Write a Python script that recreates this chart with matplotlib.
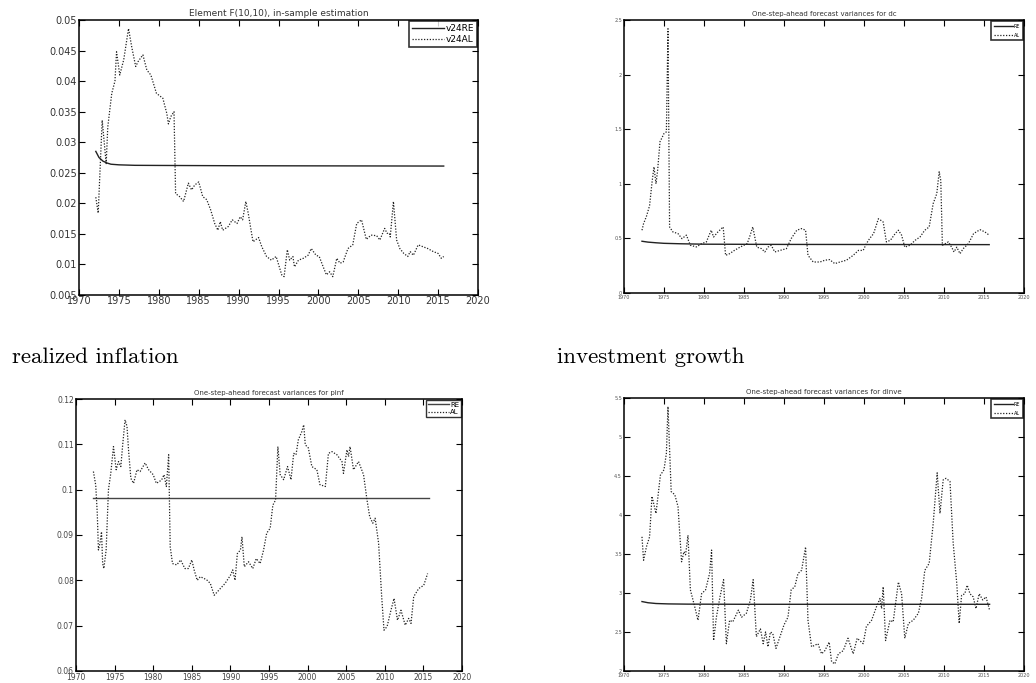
import matplotlib.pyplot as plt
import numpy as np

# --- data ---
# Element F(10,10), in-sample estimation
f_years = [1972.1, 1972.4, 1972.9, 1973.4, 1973.6, 1974.1, 1974.5, 1974.7, 1975.1, 1975.6,
           1976.2, 1976.6, 1977.1, 1977.4, 1978.0, 1978.5, 1979.0, 1979.7, 1980.5, 1981.0,
           1981.2, 1981.5, 1981.9, 1982.1, 1982.6, 1983.1, 1983.7, 1984.1, 1984.5, 1985.0,
           1985.5, 1986.0, 1986.5, 1987.0, 1987.4, 1987.7, 1988.0, 1988.7, 1989.2, 1989.8,
           1990.2, 1990.5, 1990.9, 1991.2, 1991.8, 1992.5, 1992.9, 1993.5, 1994.1, 1994.7,
           1995.4, 1995.7, 1996.1, 1996.4, 1996.8, 1997.0, 1997.5, 1998.1, 1998.7, 1999.1,
           1999.7, 2000.1, 2000.6, 2001.0, 2001.4, 2001.8, 2002.3, 2002.7, 2003.1, 2003.7,
           2004.3, 2004.8, 2005.4, 2006.0, 2006.6, 2007.3, 2007.7, 2008.3, 2008.6, 2008.9,
           2009.0, 2009.4, 2009.8, 2010.2, 2010.7, 2011.2, 2011.5, 2011.9, 2012.5, 2013.1,
           2013.7, 2014.4, 2015.0, 2015.4, 2015.7]
f_al = [0.0210, 0.0184, 0.0336, 0.0265, 0.0325, 0.0380, 0.0400, 0.0448, 0.0410, 0.0435,
        0.0486, 0.0456, 0.0424, 0.0432, 0.0443, 0.0418, 0.0410, 0.0380, 0.0372, 0.0347,
        0.0330, 0.0342, 0.0350, 0.0216, 0.0211, 0.0203, 0.0233, 0.0222, 0.0230, 0.0235,
        0.0211, 0.0206, 0.0189, 0.0167, 0.0156, 0.0170, 0.0156, 0.0162, 0.0173, 0.0167,
        0.0178, 0.0173, 0.0203, 0.0184, 0.0137, 0.0144, 0.0129, 0.0113, 0.0107, 0.0113,
        0.0083, 0.0080, 0.0124, 0.0107, 0.0113, 0.0096, 0.0107, 0.0110, 0.0115, 0.0126,
        0.0115, 0.0113, 0.0096, 0.0083, 0.0088, 0.0080, 0.0110, 0.0102, 0.0104, 0.0126,
        0.0132, 0.0167, 0.0173, 0.0141, 0.0148, 0.0147, 0.0140, 0.0159, 0.0151, 0.0151,
        0.0145, 0.0203, 0.0140, 0.0126, 0.0118, 0.0113, 0.0121, 0.0115, 0.0132, 0.0129,
        0.0126, 0.0121, 0.0118, 0.0110, 0.0113]
f_re_years = [1972.1, 1972.5, 1973.0, 1973.5, 1974.0, 1975.0, 1977.0, 1980.0, 1990.0, 2015.7]
f_re = [0.0285, 0.0275, 0.0269, 0.0266, 0.0264, 0.0263, 0.02622, 0.0262, 0.02615, 0.0261]

# One-step-ahead forecast variances for dc
dc_years = [1972.25, 1972.45, 1972.8, 1973.2, 1973.5, 1973.75, 1974.0, 1974.2, 1974.5, 1975.0,
            1975.3, 1975.5, 1975.7, 1976.1, 1976.75, 1977.25, 1977.8, 1978.3, 1979.05, 1979.7,
            1980.3, 1980.9, 1981.2, 1981.75, 1982.4, 1982.7, 1983.2, 1983.8, 1984.5, 1985.4,
            1985.7, 1986.1, 1986.6, 1987.2, 1987.6, 1988.0, 1988.4, 1988.85, 1989.5, 1990.3,
            1990.9, 1991.6, 1992.2, 1992.7, 1993.0, 1993.65, 1994.5, 1995.1, 1995.7, 1996.35,
            1997.0, 1997.8, 1998.65, 1999.3, 1999.9, 2000.3, 2000.7, 2001.2, 2001.8, 2002.1,
            2002.4, 2002.8, 2003.3, 2003.9, 2004.3, 2004.7, 2005.1, 2005.75, 2006.4, 2007.0,
            2007.6, 2008.15, 2008.65, 2009.1, 2009.4, 2009.6, 2009.8, 2010.55, 2010.95, 2011.25,
            2011.6, 2012.0, 2012.4, 2013.05, 2013.7, 2014.5, 2015.1, 2015.65]
dc_al = [0.575, 0.636, 0.700, 0.800, 1.010, 1.155, 1.000, 1.120, 1.385, 1.460,
         1.476, 2.420, 0.605, 0.560, 0.544, 0.498, 0.530, 0.437, 0.422, 0.452,
         0.468, 0.575, 0.513, 0.560, 0.605, 0.345, 0.360, 0.390, 0.420, 0.452,
         0.513, 0.605, 0.420, 0.406, 0.376, 0.420, 0.437, 0.376, 0.390, 0.406,
         0.498, 0.575, 0.590, 0.575, 0.345, 0.284, 0.284, 0.300, 0.306, 0.269,
         0.284, 0.300, 0.345, 0.390, 0.390, 0.452, 0.498, 0.544, 0.680, 0.666,
         0.650, 0.468, 0.483, 0.544, 0.575, 0.530, 0.420, 0.437, 0.483, 0.513,
         0.575, 0.605, 0.819, 0.910, 1.110, 1.030, 0.437, 0.468, 0.420, 0.376,
         0.420, 0.360, 0.406, 0.452, 0.544, 0.580, 0.560, 0.530]
dc_re_years = [1972.25, 1973.0, 1974.0, 1975.0, 1977.0, 1980.0, 1990.0, 2015.65]
dc_re = [0.474, 0.466, 0.460, 0.455, 0.451, 0.447, 0.445, 0.443]

# One-step-ahead forecast variances for pinf
pi_years = [1972.25, 1972.55, 1972.75, 1972.9, 1973.1, 1973.3, 1973.45, 1973.6, 1973.9, 1974.2,
            1974.5, 1974.85, 1975.2, 1975.5, 1975.8, 1976.05, 1976.35, 1976.6, 1976.8, 1977.1,
            1977.45, 1977.9, 1978.3, 1978.95, 1979.4, 1980.0, 1980.4, 1980.8, 1981.1, 1981.4,
            1981.7, 1982.0, 1982.2, 1982.5, 1983.05, 1983.55, 1984.1, 1984.55, 1985.0, 1985.3,
            1985.7, 1986.1, 1986.6, 1987.0, 1987.4, 1987.9, 1988.7, 1989.3, 1990.0, 1990.3,
            1990.6, 1990.9, 1991.3, 1991.5, 1991.8, 1992.35, 1992.9, 1993.35, 1993.85, 1994.3,
            1994.7, 1995.15, 1995.5, 1995.85, 1996.15, 1996.45, 1996.9, 1997.4, 1997.85, 1998.2,
            1998.5, 1998.8, 1999.25, 1999.5, 1999.7, 2000.1, 2000.55, 2001.2, 2001.6, 2002.3,
            2002.7, 2003.15, 2003.8, 2004.45, 2004.65, 2005.1, 2005.3, 2005.5, 2005.95, 2006.6,
            2007.25, 2007.7, 2008.05, 2008.45, 2008.75, 2009.2, 2009.6, 2009.9, 2010.3, 2010.8,
            2011.2, 2011.65, 2012.1, 2012.65, 2013.1, 2013.4, 2013.75, 2014.4, 2015.05, 2015.55]
pi_al = [0.1040, 0.1010, 0.0948, 0.0867, 0.0882, 0.0907, 0.0837, 0.0826, 0.0867, 0.1000,
         0.1036, 0.1095, 0.1044, 0.1062, 0.1051, 0.1100, 0.1154, 0.1140, 0.1088, 0.1025,
         0.1014, 0.1044, 0.1040, 0.1059, 0.1044, 0.1033, 0.1014, 0.1018, 0.1022, 0.1033,
         0.1007, 0.1077, 0.0874, 0.0837, 0.0834, 0.0845, 0.0826, 0.0826, 0.0845, 0.0823,
         0.0800, 0.0808, 0.0804, 0.0800, 0.0793, 0.0767, 0.0782, 0.0793, 0.0811, 0.0823,
         0.0800, 0.0859, 0.0867, 0.0896, 0.0830, 0.0841, 0.0826, 0.0848, 0.0837, 0.0867,
         0.0904, 0.0915, 0.0966, 0.0977, 0.1095, 0.1033, 0.1022, 0.1051, 0.1022, 0.1080,
         0.1077, 0.1110, 0.1128, 0.1143, 0.1099, 0.1092, 0.1051, 0.1044, 0.1011, 0.1007,
         0.1080, 0.1084, 0.1077, 0.1062, 0.1036, 0.1088, 0.1073, 0.1095, 0.1044, 0.1062,
         0.1033, 0.0977, 0.0940, 0.0926, 0.0937, 0.0882, 0.0764, 0.0690, 0.0698, 0.0734,
         0.0760, 0.0712, 0.0734, 0.0701, 0.0716, 0.0705, 0.0764, 0.0782, 0.0789, 0.0815]
pi_re_years = [1972.25, 2015.75]
pi_re = [0.0981, 0.0981]

# One-step-ahead forecast variances for dinve
inv_years = [1972.25, 1972.45, 1972.8, 1973.2, 1973.5, 1974.0, 1974.25, 1974.55, 1975.0, 1975.3,
             1975.5, 1975.9, 1976.35, 1976.75, 1977.2, 1977.5, 1977.7, 1978.0, 1978.3, 1978.85,
             1979.25, 1979.7, 1980.2, 1980.7, 1980.95, 1981.2, 1981.55, 1982.0, 1982.45, 1982.8,
             1983.2, 1983.6, 1984.3, 1984.7, 1985.3, 1985.8, 1986.15, 1986.55, 1987.05, 1987.4,
             1987.7, 1988.0, 1988.3, 1988.6, 1989.0, 1989.5, 1990.0, 1990.5, 1990.9, 1991.35,
             1991.75, 1992.2, 1992.7, 1993.0, 1993.45, 1993.85, 1994.25, 1994.7, 1995.1, 1995.65,
             1995.95, 1996.35, 1996.8, 1997.4, 1998.0, 1998.65, 1999.15, 1999.9, 2000.3, 2000.95,
             2001.55, 2002.0, 2002.2, 2002.4, 2002.7, 2003.25, 2003.65, 2004.3, 2004.7, 2005.1,
             2005.55, 2006.15, 2006.8, 2007.2, 2007.6, 2008.15, 2008.65, 2009.15, 2009.5, 2009.9,
             2010.25, 2010.75, 2011.15, 2011.6, 2011.9, 2012.2, 2012.6, 2012.9, 2013.25, 2013.65,
             2014.0, 2014.4, 2014.85, 2015.25, 2015.7]
inv_al = [3.72, 3.42, 3.59, 3.72, 4.24, 4.02, 4.24, 4.51, 4.58, 4.79,
          5.39, 4.30, 4.26, 4.11, 3.40, 3.53, 3.49, 3.74, 3.04, 2.82,
          2.65, 2.99, 3.04, 3.25, 3.55, 2.39, 2.69, 2.95, 3.17, 2.35,
          2.65, 2.63, 2.78, 2.69, 2.74, 2.91, 3.17, 2.44, 2.54, 2.35,
          2.50, 2.31, 2.50, 2.48, 2.29, 2.44, 2.59, 2.69, 3.04, 3.08,
          3.25, 3.29, 3.59, 2.65, 2.31, 2.33, 2.35, 2.22, 2.26, 2.37,
          2.12, 2.09, 2.22, 2.26, 2.42, 2.22, 2.42, 2.35, 2.57, 2.65,
          2.82, 2.93, 2.80, 3.08, 2.39, 2.65, 2.63, 3.14, 2.99, 2.42,
          2.61, 2.65, 2.74, 2.93, 3.29, 3.38, 3.89, 4.54, 4.02, 4.45,
          4.47, 4.43, 3.64, 3.12, 2.61, 2.97, 2.99, 3.10, 2.99, 2.95,
          2.80, 2.99, 2.91, 2.95, 2.78]
inv_re_years = [1972.25, 1973.0, 1974.0, 1975.5, 1978.0, 1985.0, 2015.7]
inv_re = [2.89, 2.875, 2.865, 2.86, 2.857, 2.855, 2.855]

year_ticks = list(range(1970, 2021, 5))
dots = (0, (1, 1.3))


def matlab_axes(ax, fontsize, tickcolor='black'):
    ax.set_xlim(1970, 2020)
    ax.set_xticks(year_ticks)
    ax.tick_params(direction='in', top=True, right=True, length=4, width=0.8,
                   labelsize=fontsize, labelcolor=tickcolor, pad=1.5)
    for sp in ax.spines.values():
        sp.set_linewidth(1.1)


fig = plt.figure(figsize=(10.36, 6.83), dpi=100)
fig.patch.set_facecolor('white')

# top left
ax1 = fig.add_axes([0.0763, 0.5681, 0.3851, 0.4026])
ax1.plot(f_re_years, f_re, '-', color='#222222', lw=1.0, label='v24RE')
ax1.plot(f_years, f_al, linestyle=dots, color='#222222', lw=0.9, label='v24AL')
matlab_axes(ax1, 7, '#333333')
ax1.tick_params(axis='x', pad=0.5)
ax1.set_ylim(0.005, 0.05)
ax1.set_yticks(np.arange(0.005, 0.0501, 0.005))
ax1.set_yticklabels(['0.005', '0.01', '0.015', '0.02', '0.025', '0.03', '0.035',
                     '0.04', '0.045', '0.05'])
ax1.set_title('Element F(10,10), in-sample estimation', fontsize=6.5, color='#333333', pad=3)
leg = ax1.legend(loc='upper right', fontsize=6.5, handlelength=3.5, borderaxespad=0.15,
                 fancybox=False, edgecolor='black', borderpad=0.3, labelspacing=0.25,
                 handletextpad=0.2)
leg.get_frame().set_linewidth(1.2)

# top right
ax2 = fig.add_axes([0.6023, 0.571, 0.3861, 0.3997])
ax2.plot(dc_re_years, dc_re, '-', color='#222222', lw=1.0, label='RE')
ax2.plot(dc_years, dc_al, linestyle=dots, color='#222222', lw=0.9, label='AL')
matlab_axes(ax2, 3.5, '#555555')
ax2.set_ylim(0, 2.5)
ax2.set_yticks([0, 0.5, 1, 1.5, 2, 2.5])
ax2.set_yticklabels(['0', '0.5', '1', '1.5', '2', '2.5'])
ax2.set_title('One-step-ahead forecast variances for dc', fontsize=5, color='#333333', pad=3)
leg = ax2.legend(loc='upper right', fontsize=3.5, handlelength=4, borderaxespad=0.15,
                 fancybox=False, edgecolor='black', borderpad=0.6, labelspacing=0.8,
                 handletextpad=0.1)
leg.get_frame().set_linewidth(1.2)

# bottom left
ax3 = fig.add_axes([0.0734, 0.0176, 0.3725, 0.3982])
ax3.plot(pi_re_years, pi_re, '-', color='#444444', lw=1.0, label='RE')
ax3.plot(pi_years, pi_al, linestyle=dots, color='#222222', lw=0.9, label='AL')
matlab_axes(ax3, 5.5, '#444444')
ax3.set_ylim(0.06, 0.12)
ax3.set_yticks([0.06, 0.07, 0.08, 0.09, 0.10, 0.11, 0.12])
ax3.set_yticklabels(['0.06', '0.07', '0.08', '0.09', '0.1', '0.11', '0.12'])
ax3.set_title('One-step-ahead forecast variances for pinf', fontsize=5, color='#333333', pad=3)
leg = ax3.legend(loc='upper right', fontsize=5, handlelength=3, borderaxespad=0.15,
                 fancybox=False, edgecolor='black', borderpad=0.25, labelspacing=0.2,
                 handletextpad=0.2)
leg.get_frame().set_linewidth(1.0)

# bottom right
ax4 = fig.add_axes([0.6023, 0.0176, 0.3861, 0.3997])
ax4.plot(inv_re_years, inv_re, '-', color='#222222', lw=1.0, label='RE')
ax4.plot(inv_years, inv_al, linestyle=dots, color='#222222', lw=0.9, label='AL')
matlab_axes(ax4, 3.5, '#555555')
ax4.set_ylim(2, 5.5)
ax4.set_yticks([2, 2.5, 3, 3.5, 4, 4.5, 5, 5.5])
ax4.set_yticklabels(['2', '2.5', '3', '3.5', '4', '4.5', '5', '5.5'])
ax4.set_title('One-step-ahead forecast variances for dinve', fontsize=5, color='#333333', pad=3)
leg = ax4.legend(loc='upper right', fontsize=3.5, handlelength=4, borderaxespad=0.15,
                 fancybox=False, edgecolor='black', borderpad=0.6, labelspacing=0.8,
                 handletextpad=0.1)
leg.get_frame().set_linewidth(1.2)

# captions in the document
fig.text(12 / 1036, 1 - 363 / 683, 'realized inflation', fontsize=16.5,
         family=['cmr10', 'DejaVu Serif'], va='baseline', ha='left')
fig.text(557 / 1036, 1 - 363 / 683, 'investment growth', fontsize=16.5,
         family=['cmr10', 'DejaVu Serif'], va='baseline', ha='left')

fig.savefig('out.png', dpi=100, facecolor='white')
